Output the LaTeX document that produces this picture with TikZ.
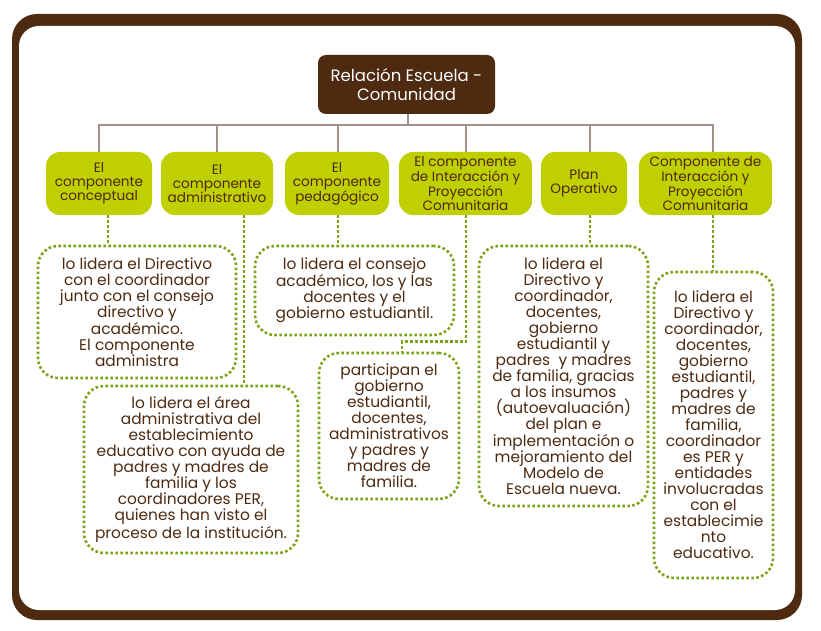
\documentclass[tikz,border=0pt]{standalone}
\usepackage{fontspec}
\setmainfont{Poppins}
\definecolor{brownD}{HTML}{4D2A10}
\definecolor{greenF}{HTML}{BFCF00}
\definecolor{greenD}{HTML}{7DA31A}
\definecolor{connC}{HTML}{A39189}
\begin{document}
\begin{tikzpicture}[x=1pt,y=-1pt,
  topbox/.style={fill=brownD, text=white, rounded corners=8, minimum width=177, minimum height=59, align=center, inner sep=0, font=\fontsize{16.5}{19}\selectfont},
  compbox/.style={fill=greenF, text=brownD, rounded corners=14, align=center, inner sep=0, minimum height=63, font=\fontsize{13.6}{14}\selectfont},
  dotbox/.style={draw=greenD, line width=2.6pt, dash pattern=on 2.6pt off 2.4pt, rounded corners=20, align=center, inner sep=0, text=brownD, font=\fontsize{15.4}{16}\selectfont},
  dotconn/.style={draw=greenD, line width=2.6pt, dash pattern=on 2.6pt off 2.4pt},
  conn/.style={draw=connC, line width=1.5pt}]
\useasboundingbox (0,0) rectangle (821,631);
\fill[white] (0,0) rectangle (821,631);
\fill[brownD, rounded corners=25] (12,14) rectangle (802,620);
\fill[white, rounded corners=20] (19,26) rectangle (795,610);

\node[topbox] (top) at (406.5,84.5) {Relación Escuela -\\Comunidad};

\node[compbox, minimum width=106] (c1) at (99,183.5) {El\\componente\\conceptual};
\node[compbox, minimum width=112] (c2) at (217,183.5) {El\\componente\\administrativo};
\node[compbox, minimum width=104] (c3) at (337,183.5) {El\\componente\\pedagógico};
\node[compbox, minimum width=133] (c4) at (465.5,183.5) {El componente\\de Interacción y\\Proyección\\Comunitaria};
\node[compbox, minimum width=86] (c5) at (584,183.5) {Plan\\Operativo};
\node[compbox, minimum width=133] (c6) at (705.5,183.5) {Componente de\\Interacción y\\Proyección\\Comunitaria};

\coordinate (bar) at (408,125);
\draw[conn] (bar |- top.south) -- (bar);
\draw[conn] (c1.north) |- ([xshift=7.5]c6.north |- bar) -- ([xshift=7.5]c6.north);
\draw[conn] (c2.north) -- (c2.north |- bar);
\draw[conn] ([xshift=1]c3.north) -- ([xshift=1]c3.north |- bar);
\draw[conn] ([xshift=0.5]c4.north) -- ([xshift=0.5]c4.north |- bar);
\draw[conn] ([xshift=6]c5.north) -- ([xshift=6]c5.north |- bar);

\node[dotbox, minimum width=198, minimum height=132] (d1) at (137,312) {lo lidera el Directivo\\con el coordinador\\junto con el consejo\\directivo y\\académico.\\El componente\\administra};
\node[dotbox, minimum width=214, minimum height=167] (d2) at (191,469.5) {lo lidera el área\\administrativa del\\establecimiento\\educativo con ayuda de\\padres y madres de\\familia y los\\coordinadores PER,\\quienes han visto el\\proceso de la institución.};
\node[dotbox, minimum width=199, minimum height=89] (d3) at (354.5,290.5) {lo lidera el consejo\\académico, los y las\\docentes y el\\gobierno estudiantil.};
\node[dotbox, minimum width=140, minimum height=146] (d4) at (389,426) {participan el\\gobierno\\estudiantil,\\docentes,\\administrativos\\y padres y\\madres de\\familia.};
\node[dotbox, minimum width=169, minimum height=260] (d5) at (563.5,376) {lo lidera el\\Directivo y\\coordinador,\\docentes,\\gobierno\\estudiantil y\\padres\ \ y madres\\de familia, gracias\\a los insumos\\(autoevaluación)\\del plan e\\implementación o\\mejoramiento del\\Modelo de\\Escuela nueva.};
\node[dotbox, minimum width=119, minimum height=306] (d6) at (713.5,425) {lo lidera el\\Directivo y\\coordinador,\\docentes,\\gobierno\\estudiantil,\\padres y\\madres de\\familia,\\coordinador\\es PER y\\entidades\\involucradas\\con el\\establecimie\\nto\\educativo.};

\draw[dotconn] ([xshift=9]c1.south) -- ([xshift=9]c1.south |- d1.north);
\draw[dotconn] ([xshift=27]c2.south) -- ([xshift=27]c2.south |- d2.north);
\draw[dotconn] ([xshift=1]c3.south) -- ([xshift=1]c3.south |- d3.north);
\draw[dotconn] ([xshift=0.5]c4.south) |- ([xshift=13,yshift=10]d4.north) -- ([xshift=13]d4.north);
\draw[dotconn] ([xshift=6]c5.south) -- ([xshift=6]c5.south |- d5.north);
\draw[dotconn] ([xshift=7.5]c6.south) -- ([xshift=7.5]c6.south |- d6.north);
\end{tikzpicture}
\end{document}
